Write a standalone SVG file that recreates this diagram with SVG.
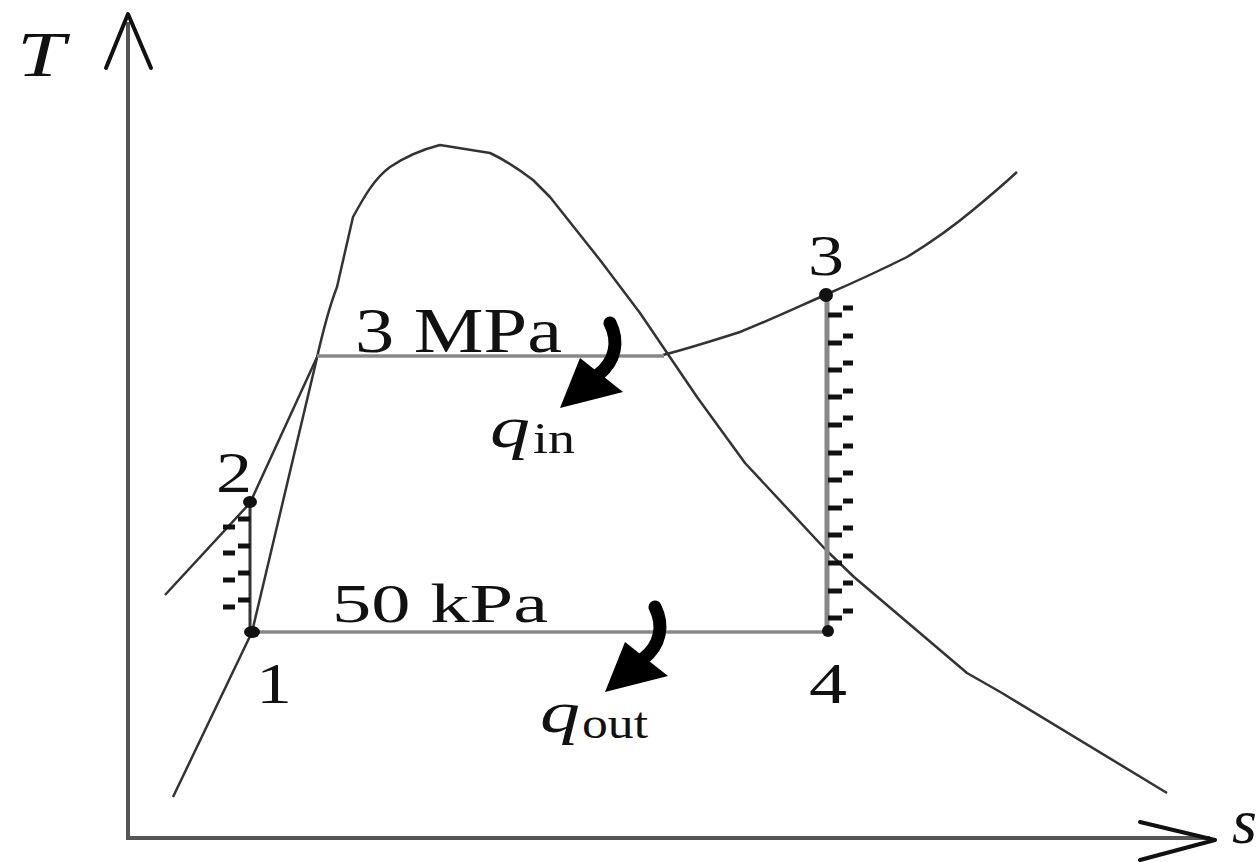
<svg xmlns="http://www.w3.org/2000/svg" width="1258" height="862" viewBox="0 0 1258 862">
<style>
.axis{stroke:#555;stroke-width:4;fill:none}
.head{stroke:#111;stroke-width:4;fill:none;stroke-linecap:round;stroke-linejoin:round}
.curve{stroke:#333;stroke-width:2.5;fill:none;stroke-linejoin:round}
.proc{stroke:#888;stroke-width:3.5;fill:none}
.hatch{stroke:#111;stroke-width:5;fill:none}
.dot{fill:#111}
.lbl{font-family:'Liberation Serif','Times New Roman',serif;fill:#111}
.it{font-style:italic}
</style>
<defs>
<g id="heatArrow">
<path d="M0,0 C9,18 6,38 -12,52" stroke="#000" stroke-width="13" fill="none" stroke-linecap="round"/>
<polygon points="-50,85 -30,35 13,69" fill="#000"/>
</g>
</defs>
<rect width="1258" height="862" fill="#fff"/>
<g id="axes">
<line class="axis" x1="128" y1="22" x2="128" y2="838"/>
<line class="axis" x1="126" y1="838" x2="1210" y2="838"/>
<polyline class="head" points="106,68 128,14 151,68"/>
<polyline class="head" points="1140,822 1215,840 1140,860"/>
</g>
<g id="curves">
<path id="dome" class="curve" d="M173,797 L252,632 L316,362 C322,335 330,305 337,287 L353,217 C365,195 375,178 390,167 C405,157 420,150 440,145 L490,153 C505,160 520,170 533,180 L550,197 L600,260 L640,313 L697,397 L745,463 L826,550 L854,577 L967,673 L1002,693 L1167,793"/>
<path id="isobar-3MPa-liquid" class="curve" d="M165,595 L250,503 L318,355"/>
<path id="isobar-3MPa-vapor" class="curve" d="M663,355 C690,348 715,340 740,332 C770,320 800,306 825,295 C855,282 885,268 907,257 C935,240 955,225 973,210 C990,196 1005,183 1017,172"/>
</g>
<g id="connectors">
<line id="p2-3" class="proc" x1="317" y1="356" x2="664" y2="356"/>
<line id="p4-1" class="proc" x1="252" y1="632" x2="828" y2="632"/>
<line id="p1-2" x1="250" y1="503" x2="250" y2="632" stroke="#333" stroke-width="3"/>
<line id="p3-4" x1="827" y1="295" x2="827" y2="631" stroke="#888" stroke-width="5"/>
<g id="hatch12" class="hatch">
<path d="M238,519h12M238,546h12M238,573h12M238,600h12M223,527h12M223,553h12M223,580h12M223,607h12"/>
</g>
<g id="hatch34" class="hatch">
<path d="M843,308h10M843,336h10M843,363h10M843,391h10M843,418h10M843,446h10M843,473h10M843,501h10M843,528h10M843,556h10M843,583h10M843,611h10"/>
<path d="M828,315h14M828,343h14M828,370h14M828,397h14M828,425h14M828,453h14M828,480h14M828,508h14M828,535h14M828,563h14M828,591h14M828,618h14"/>
</g>
</g>
<g font-family="Liberation Serif, Times New Roman, serif">
<g id="state1"><ellipse class="dot" cx="252" cy="632" rx="8" ry="6"/><text class="lbl" x="256" y="703" font-size="58" textLength="36" lengthAdjust="spacingAndGlyphs">1</text></g>
<g id="state2"><ellipse class="dot" cx="250" cy="502" rx="7" ry="6"/><text class="lbl" x="216" y="492" font-size="58" textLength="36" lengthAdjust="spacingAndGlyphs">2</text></g>
<g id="state3"><circle class="dot" cx="826" cy="295" r="7"/><text class="lbl" x="808" y="275" font-size="58" textLength="36" lengthAdjust="spacingAndGlyphs">3</text></g>
<g id="state4"><circle class="dot" cx="828" cy="631" r="6"/><text class="lbl" x="809" y="703" font-size="58" textLength="38" lengthAdjust="spacingAndGlyphs">4</text></g>
<g id="labels">
<text class="lbl it" x="17" y="76" font-size="64" textLength="48" lengthAdjust="spacingAndGlyphs">T</text>
<text class="lbl it" x="1232" y="843" font-size="64">s</text>
<text class="lbl" x="355" y="352" font-size="64" textLength="207" lengthAdjust="spacingAndGlyphs">3 MPa</text>
<text class="lbl" x="332" y="622" font-size="54" textLength="216" lengthAdjust="spacingAndGlyphs">50 kPa</text>
</g>
<g id="qin">
<use href="#heatArrow" transform="translate(610,323)"/>
<text class="lbl it" x="490" y="447" font-size="60" textLength="40" lengthAdjust="spacingAndGlyphs">q</text>
<text class="lbl" x="533" y="453" font-size="44" textLength="42" lengthAdjust="spacingAndGlyphs">in</text>
</g>
<g id="qout">
<use href="#heatArrow" transform="translate(655,607)"/>
<text class="lbl it" x="540" y="732" font-size="60" textLength="40" lengthAdjust="spacingAndGlyphs">q</text>
<text class="lbl" x="582" y="738" font-size="44" textLength="66" lengthAdjust="spacingAndGlyphs">out</text>
</g>
</g>
</svg>
